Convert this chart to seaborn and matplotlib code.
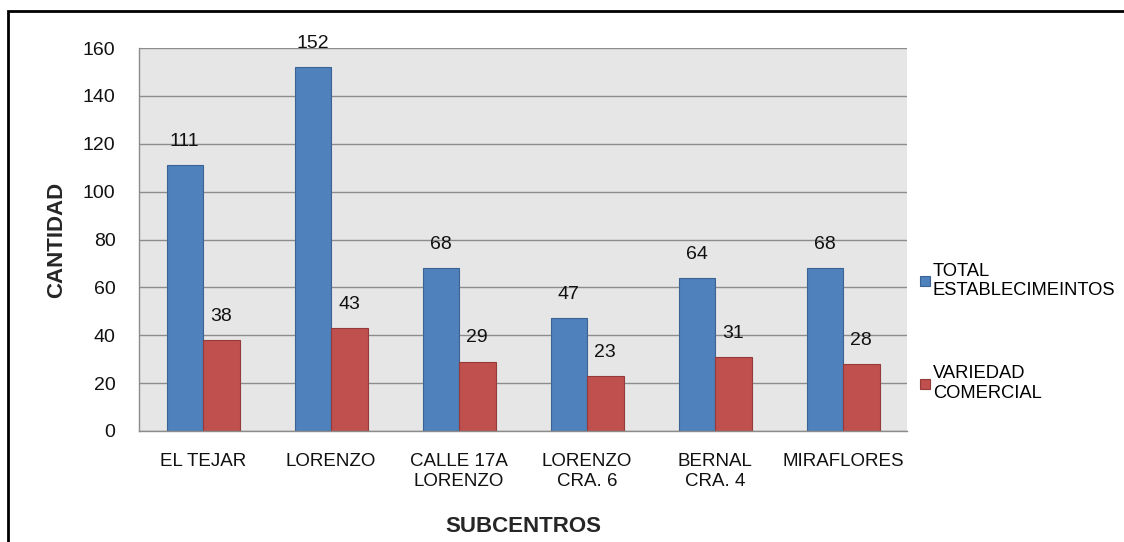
import matplotlib
matplotlib.use("Agg")
import matplotlib.pyplot as plt
import pandas as pd
import seaborn as sns
from matplotlib.lines import Line2D
from matplotlib.patches import Rectangle

subcentros = ["EL TEJAR", "LORENZO", "CALLE 17A\nLORENZO", "LORENZO\nCRA. 6",
              "BERNAL\nCRA. 4", "MIRAFLORES"]
total_establecimientos = [111, 152, 68, 47, 64, 68]
variedad_comercial = [38, 43, 29, 23, 31, 28]
series = ["TOTAL\nESTABLECIMEINTOS", "VARIEDAD\nCOMERCIAL"]

colors = ["#4F81BD", "#C0504D"]
edges = ["#3A6293", "#943B39"]

df = pd.DataFrame({
    "subcentro": subcentros * 2,
    "serie": [series[0]] * 6 + [series[1]] * 6,
    "cantidad": total_establecimientos + variedad_comercial,
})

sns.set_style("white")
plt.rcParams["font.family"] = ["Liberation Sans", "DejaVu Sans"]
plt.rcParams["text.color"] = "black"

fig = plt.figure(figsize=(11.24, 5.42), dpi=100)
ax = fig.add_axes([0.1237, 0.2048, 0.6833, 0.7066])

sns.barplot(data=df, x="subcentro", y="cantidad", hue="serie", order=subcentros,
            hue_order=series, palette=colors, width=0.57, gap=0, ax=ax,
            legend=False, saturation=1)

for cont, ec in zip(ax.containers, edges):
    for bar in cont:
        bar.set_edgecolor(ec)
        bar.set_linewidth(0.8)
    ax.bar_label(cont, padding=11, fontsize=14, color="#111111")

ax.set_facecolor("#E6E6E6")
ax.set_ylim(0, 160)
ax.set_xlim(-0.5, 5.5)
ax.set_yticks(range(0, 161, 20))
ax.yaxis.grid(True, color="#8C8C8C", linewidth=1)
ax.set_axisbelow(True)
for side in ["top", "right"]:
    ax.spines[side].set_visible(False)
for side in ["left", "bottom"]:
    ax.spines[side].set_color("#8C8C8C")
    ax.spines[side].set_linewidth(1)

ax.tick_params(axis="y", length=5, color="#8C8C8C", labelsize=14,
               labelcolor="#111111", pad=12)
ax.tick_params(axis="x", which="major", length=0, labelsize=13.5,
               labelcolor="#111111", pad=16)
ax.set_xticks([i - 0.5 for i in range(7)], minor=True)
ax.tick_params(axis="x", which="minor", length=5, color="#8C8C8C")

ax.set_xlabel("SUBCENTROS", fontsize=16, fontweight="bold", labelpad=19)
ax.set_ylabel("CANTIDAD", fontsize=16, fontweight="bold", labelpad=11)

handles = [Line2D([], [], marker="s", linestyle="none", markersize=7,
                  markerfacecolor=c, markeredgecolor=e, markeredgewidth=0.8)
           for c, e in zip(colors, edges)]
fig.legend(handles, series, loc="upper left", bbox_to_anchor=(0.812, 0.529),
           frameon=False, fontsize=13.2, handlelength=0.55, handletextpad=0.15,
           labelspacing=3.6, borderaxespad=0)

fig.patches.append(Rectangle((0.0075, -0.05), 1.1, 0.05 + 1 - 11 / 542,
                             transform=fig.transFigure, fill=False,
                             edgecolor="black", linewidth=2))

fig.savefig("out.png", dpi=100)
